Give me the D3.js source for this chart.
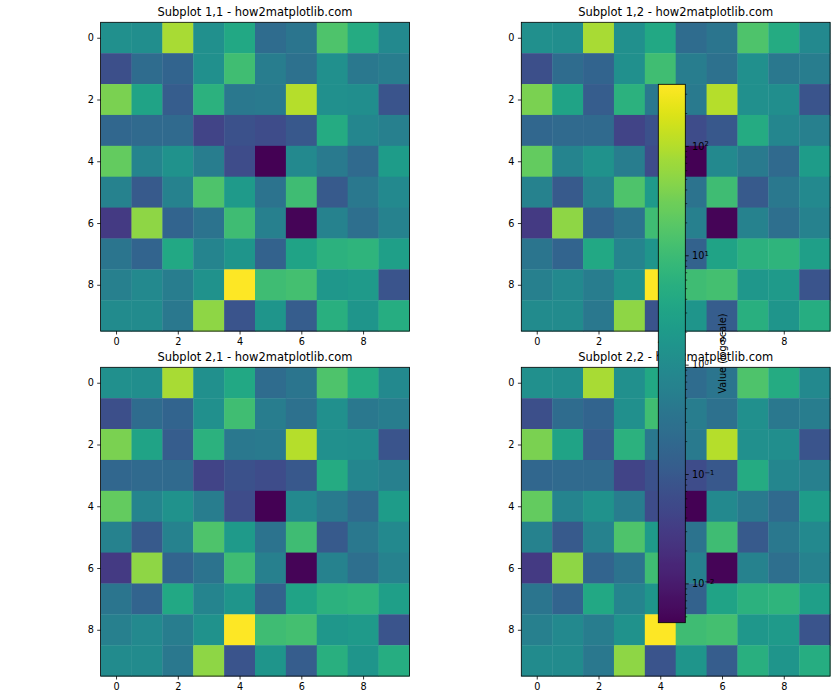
<!DOCTYPE html>
<html>
<head>
<meta charset="utf-8">
<script src="https://cdn.jsdelivr.net/npm/d3@7"></script>
<style>
  body { margin: 0; background: #fff; }
  svg text { font-family: "DejaVu Sans", sans-serif; fill: #000; }
</style>
</head>
<body>
<div id="chart"></div>
<script>
// Figure size.
var width = 840;
var height = 700;

// Texts and ticks.
var subplotTitles = [
  "Subplot 1,1 - how2matplotlib.com",
  "Subplot 1,2 - how2matplotlib.com",
  "Subplot 2,1 - how2matplotlib.com",
  "Subplot 2,2 - how2matplotlib.com"
];
var axisTicks = [0, 2, 4, 6, 8];
var colorbarLabel = "Value (log scale)";

// The 10x10 grid, one array per row (log scale).
var row0 = [1.26, 1.13, 83.9, 1.26, 3.93, 0.231, 0.363, 15.3, 4.40, 0.900];
var row1 = [0.0664, 0.231, 0.164, 1.26, 11.5, 0.511, 0.290, 1.26, 0.407, 0.511];
var row2 = [37.9, 3.13, 0.117, 6.18, 0.407, 0.456, 105, 1.26, 1.13, 0.0832];
var row3 = [0.184, 0.206, 0.206, 0.0422, 0.0743, 0.0593, 0.0931, 4.40, 0.804, 0.572];
var row4 = [24.1, 0.718, 1.42, 0.511, 0.0593, 0.00437, 0.900, 0.456, 0.206, 2.23];
var row5 = [0.641, 0.104, 0.641, 15.3, 1.99, 0.324, 10.9, 0.104, 0.407, 0.900];
var row6 = [0.030, 53.3, 0.164, 0.324, 10.9, 0.572, 0.00489, 0.641, 0.259, 0.641];
var row7 = [0.363, 0.164, 3.93, 0.718, 1.59, 0.147, 3.13, 6.18, 6.93, 2.50];
var row8 = [0.572, 0.900, 0.511, 1.42, 366, 10.9, 12.2, 1.78, 1.99, 0.0832];
var row9 = [1.01, 1.01, 0.407, 53.3, 0.0832, 1.59, 0.117, 5.52, 1.59, 4.93];
var cellValues = [row0, row1, row2, row3, row4, row5, row6, row7, row8, row9];

// Panel placement (pixels).
var axSize = 308.8;
var panels = [
  {x: 100.6, y: 22.3},
  {x: 521.3, y: 22.3},
  {x: 100.6, y: 367.3},
  {x: 521.3, y: 367.3}
];
var cb = {x: 658.3, y: 84.3, w: 27, h: 538.4};
var tickLen = 3.4, tickPad = 3.4;

var allValues = d3.merge(cellValues);
var extent = d3.extent(allValues);
var color = d3.scaleSequentialLog(d3.interpolateViridis).domain(extent);

var svg = d3.select("#chart").append("svg")
    .attr("width", width)
    .attr("height", height);

svg.append("rect")
    .attr("width", width)
    .attr("height", height)
    .attr("fill", "#fff");

var x = d3.scaleLinear().domain([-0.5, 9.5]).range([0, axSize]);
var y = d3.scaleLinear().domain([-0.5, 9.5]).range([0, axSize]);

panels.forEach(function(p, k) {
  var g = svg.append("g")
      .attr("transform", "translate(" + p.x + "," + p.y + ")");

  // Heatmap cells.
  cellValues.forEach(function(row, i) {
    g.selectAll(null)
        .data(row)
        .enter().append("rect")
        .attr("x", function(d, j) { return x(j - 0.5); })
        .attr("y", y(i - 0.5))
        .attr("width", x(0.5) - x(-0.5) + 0.4)
        .attr("height", y(0.5) - y(-0.5) + 0.4)
        .attr("fill", function(d) { return color(d); });
  });

  // Spines.
  g.append("rect")
      .attr("width", axSize)
      .attr("height", axSize)
      .attr("fill", "none")
      .attr("stroke", "#000")
      .attr("stroke-width", 0.8);

  var xAxis = g.append("g")
      .attr("transform", "translate(0," + axSize + ")")
      .call(d3.axisBottom(x).tickValues(axisTicks).tickSize(tickLen).tickPadding(tickPad));
  var yAxis = g.append("g")
      .call(d3.axisLeft(y).tickValues(axisTicks).tickSize(tickLen).tickPadding(tickPad));

  [xAxis, yAxis].forEach(function(a) {
    a.select(".domain").remove();
    a.selectAll("line").attr("stroke", "#000").attr("stroke-width", 0.8);
    a.selectAll("text")
        .attr("font-family", "DejaVu Sans")
        .attr("font-size", 9.7)
        .attr("fill", "#000");
  });

  g.append("text")
      .attr("x", axSize / 2)
      .attr("y", -6.3)
      .attr("text-anchor", "middle")
      .attr("font-size", 11.5)
      .text(subplotTitles[k]);
});

// Colorbar, drawn last so it sits on top of the panels.
var cbY = d3.scaleLog().domain(extent).range([cb.y + cb.h, cb.y]);

var grad = svg.append("defs").append("linearGradient")
    .attr("id", "cbgrad")
    .attr("x1", 0).attr("y1", 0)
    .attr("x2", 0).attr("y2", 1);
var nStops = 64;
for (var s = 0; s <= nStops; s++) {
  var v = cbY.invert(cb.y + cb.h * s / nStops);
  grad.append("stop")
      .attr("offset", s / nStops)
      .attr("stop-color", color(v));
}

var cbG = svg.append("g");
cbG.append("rect")
    .attr("x", cb.x)
    .attr("y", cb.y)
    .attr("width", cb.w)
    .attr("height", cb.h)
    .attr("fill", "url(#cbgrad)")
    .attr("stroke", "#000")
    .attr("stroke-width", 0.8);

var isMajor = function(d) {
  var l = Math.log10(d);
  return Math.abs(l - Math.round(l)) < 1e-9;
};
var allTicks = cbY.ticks();
var majorTicks = allTicks.filter(isMajor);
var minorTicks = allTicks.filter(function(d) { return !isMajor(d); });

var minorAxis = cbG.append("g")
    .attr("transform", "translate(" + (cb.x + cb.w) + ",0)")
    .call(d3.axisRight(cbY).tickValues(minorTicks).tickSize(1.9).tickFormat(""));
minorAxis.select(".domain").remove();
minorAxis.selectAll("line").attr("stroke", "#000").attr("stroke-width", 0.6);

var majorAxis = cbG.append("g")
    .attr("transform", "translate(" + (cb.x + cb.w) + ",0)")
    .call(d3.axisRight(cbY).tickValues(majorTicks).tickSize(tickLen).tickPadding(tickPad)
      .tickFormat(function() { return "10"; }));
majorAxis.select(".domain").remove();
majorAxis.selectAll("line").attr("stroke", "#000").attr("stroke-width", 0.8);
majorAxis.selectAll("text")
    .attr("font-family", "DejaVu Sans")
    .attr("font-size", 9.7)
    .attr("fill", "#000")
    .append("tspan")
    .attr("dy", "-0.45em")
    .attr("font-size", 6.8)
    .text(function(d) {
      var e = Math.round(Math.log10(d));
      return e < 0 ? "\u2212" + (-e) : "" + e;
    });

cbG.append("text")
    .attr("transform", "translate(722," + (cb.y + cb.h / 2) + ") rotate(-90)")
    .attr("text-anchor", "middle")
    .attr("dominant-baseline", "central")
    .attr("font-size", 9.7)
    .text(colorbarLabel);
</script>
</body>
</html>
